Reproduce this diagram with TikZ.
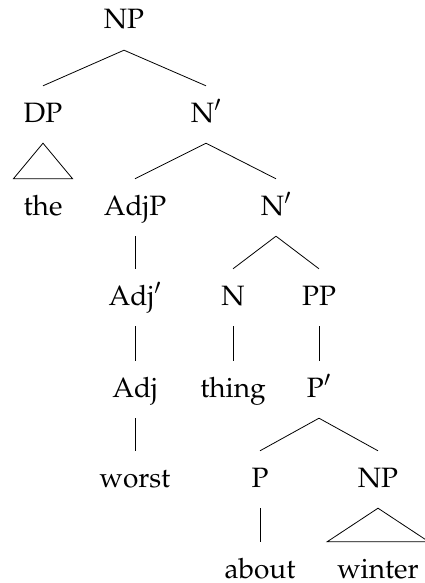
\documentclass[tikz,border=0pt]{standalone}
\usepackage[T1]{fontenc}
\usepackage{mathpazo}
\begin{document}
\begin{tikzpicture}[x=1pt,y=-1pt,
  lbl/.style={inner xsep=0pt, inner ysep=15pt, text height=21pt, text depth=6pt, anchor=base, font=\fontsize{28}{32}\selectfont},
  bottomlbl/.style={lbl, inner ysep=1pt, text depth=0pt},
  edge/.style={line width=0.8pt}]
\useasboundingbox (0,0) rectangle (425,583);
% level 0
\node[lbl] (np) at (124,29) {NP};
% level 1
\node[lbl] (dp) at (43,122) {DP};
\node[lbl] (nb1) at (206,122) {N$'$};
% level 2
\node[lbl] (the) at (43,215) {the};
\node[lbl] (adjp) at (135,215) {AdjP};
\node[lbl] (nb2) at (276,215) {N$'$};
% level 3
\node[lbl] (adjb) at (135,305) {Adj$'$};
\node[lbl] (n) at (233,305) {N};
\node[lbl] (pp) at (319,305) {PP};
% level 4
\node[lbl] (adj) at (135,397) {Adj};
\node[lbl] (thing) at (233,397) {thing};
\node[lbl] (pb) at (319,397) {P$'$};
% level 5
\node[lbl] (worst) at (135,487) {worst};
\node[lbl] (p) at (260,487) {P};
\node[lbl] (np2) at (378,487) {NP};
% level 6
\node[bottomlbl] (about) at (260,578) {about};
\node[bottomlbl] (winter) at (378,578) {winter};
% edges
\draw[edge] (np.south) -- (dp.north);
\draw[edge] (np.south) -- (nb1.north);
\draw[edge] (dp.south) -- ([xshift=-10pt]the.north west) -- ([xshift=10pt]the.north east) -- cycle;
\draw[edge] (nb1.south) -- (adjp.north);
\draw[edge] (nb1.south) -- (nb2.north);
\draw[edge] (adjp.south) -- (adjb.north);
\draw[edge] (nb2.south) -- (n.north);
\draw[edge] (nb2.south) -- (pp.north);
\draw[edge] (adjb.south) -- (adj.north);
\draw[edge] (n.south) -- (thing.north);
\draw[edge] (pp.south) -- (pb.north);
\draw[edge] (adj.south) -- (worst.north);
\draw[edge] (pb.south) -- (p.north);
\draw[edge] (pb.south) -- (np2.north);
\draw[edge] (p.south) -- ([yshift=14pt]about.north);
\draw[edge] (np2.south) -- ([xshift=-10pt,yshift=14pt]winter.north west) -- ([xshift=10pt,yshift=14pt]winter.north east) -- cycle;
\end{tikzpicture}
\end{document}
